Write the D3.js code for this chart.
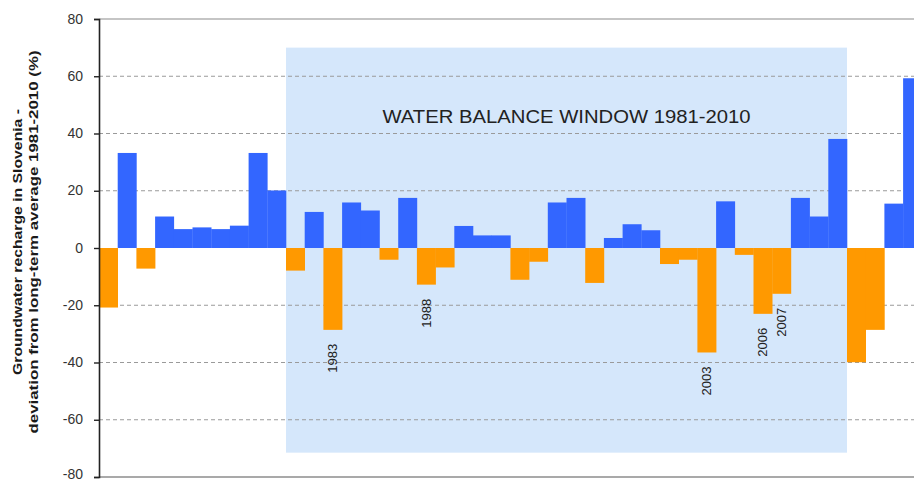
<!DOCTYPE html>
<html>
<head>
<meta charset="utf-8">
<script src="https://cdn.jsdelivr.net/npm/d3@7"></script>
<style>
  html, body { margin: 0; padding: 0; background: #fff; }
  svg { display: block; font-family: "Liberation Sans", Arial, sans-serif; }
</style>
</head>
<body>
<svg id="chart" width="914" height="483"></svg>
<script>
// Yearly groundwater recharge in Slovenia, deviation from 1981-2010 average (%)
const years = d3.range(1971, 2015);
const deviation = [
  -20.8, 33.2, -7.2, 11.0, 6.6, 7.2, 6.6, 7.8, 33.2, 20.1,      // 1971-1980
  -7.9, 12.6, -28.6, 15.9, 13.1, -4.1, 17.5, -12.8, -6.8, 7.7,  // 1981-1990
  4.4, 4.4, -11.1, -4.8, 15.9, 17.5, -12.2, 3.5, 8.3, 6.2,      // 1991-2000
  -5.6, -4.1, -36.5, 16.3, -2.4, -23.0, -16.0, 17.5, 11.0, 38.1, // 2001-2010
  -39.9, -28.6, 15.5, 59.3                                       // 2011-2014
];
const yTicks = [-80, -60, -40, -20, 0, 20, 40, 60, 80];
const gridValues = [-60, -40, -20, 20, 40, 60];
const labelledYears = [1983, 1988, 2003, 2006, 2007];
const windowYears = [1981, 2010];
const windowRange = [-71.5, 70];
const windowTitle = "WATER BALANCE WINDOW 1981-2010";
const yTitle = ["Groundwater recharge in Slovenia -",
                "deviation from long-term average 1981-2010 (%)"];

const data = years.map((y, i) => ({ year: y, value: deviation[i] }));

const svg = d3.select("#chart");
const plotLeft = 99, plotTop = 19, plotBottom = 477;
const barW = 18.7;

const x = d3.scaleBand()
  .domain(years)
  .range([plotLeft, plotLeft + years.length * barW])
  .padding(0);

const y = d3.scaleLinear().domain([-80, 80]).range([plotBottom, plotTop]);

// Shaded reference window
svg.append("rect")
  .attr("x", x(windowYears[0]))
  .attr("y", y(windowRange[1]))
  .attr("width", x(windowYears[1]) + x.bandwidth() - x(windowYears[0]))
  .attr("height", y(windowRange[0]) - y(windowRange[1]))
  .attr("fill", "#d5e7fb");

// Dashed gridlines
svg.append("g").selectAll("line")
  .data(gridValues)
  .join("line")
  .attr("x1", plotLeft).attr("x2", 914)
  .attr("y1", d => y(d)).attr("y2", d => y(d))
  .attr("stroke", "#9a9a9a")
  .attr("stroke-width", 1)
  .attr("stroke-dasharray", "4,3");

// Frame lines at top and bottom
svg.append("line").attr("x1", plotLeft).attr("x2", 914)
  .attr("y1", y(80)).attr("y2", y(80))
  .attr("stroke", "#8c8c8c").attr("stroke-width", 1.2);
svg.append("line").attr("x1", plotLeft).attr("x2", 914)
  .attr("y1", y(-80)).attr("y2", y(-80))
  .attr("stroke", "#555").attr("stroke-width", 1.2);

// Window title
svg.append("text")
  .attr("x", (x(windowYears[0]) + x(windowYears[1]) + x.bandwidth()) / 2)
  .attr("y", 123)
  .attr("text-anchor", "middle")
  .attr("font-size", 17.5)
  .attr("fill", "#222")
  .attr("textLength", 368)
  .attr("lengthAdjust", "spacingAndGlyphs")
  .text(windowTitle);

// Bars
svg.append("g").selectAll("rect")
  .data(data)
  .join("rect")
  .attr("x", d => x(d.year))
  .attr("width", x.bandwidth() + 0.3)
  .attr("y", d => y(Math.max(0, d.value)))
  .attr("height", d => Math.abs(y(d.value) - y(0)))
  .attr("fill", d => d.value >= 0 ? "#3366ff" : "#ff9900");

// Year labels under selected dry years
svg.append("g").selectAll("text")
  .data(data.filter(d => labelledYears.includes(d.year)))
  .join("text")
  .attr("transform", d =>
    `translate(${x(d.year) + x.bandwidth() / 2},${y(d.value) + 14}) rotate(-90)`)
  .attr("dy", "0.35em")
  .attr("text-anchor", "end")
  .attr("font-size", 13)
  .attr("fill", "#222")
  .attr("textLength", 29)
  .attr("lengthAdjust", "spacingAndGlyphs")
  .text(d => d.year);

// Y axis (plain hyphen for negative numbers)
const yAxis = d3.axisLeft(y)
  .tickValues(yTicks)
  .tickFormat(d => String(d))
  .tickSize(5)
  .tickPadding(11);
const gy = svg.append("g").attr("transform", `translate(${plotLeft},0)`).call(yAxis);
gy.select(".domain").attr("stroke", "#222").attr("stroke-width", 1.6);
gy.selectAll(".tick line").attr("stroke", "#222").attr("stroke-width", 1.4);
gy.selectAll(".tick text")
  .attr("font-size", 14)
  .attr("dy", d => d === -80 ? "0.1em" : "0.3em")
  .attr("font-family", "Liberation Sans, Arial, sans-serif")
  .attr("fill", "#333");

// Y axis title (two lines)
const titleCenterY = 242;
[[17, yTitle[0], 266], [33, yTitle[1], 383]].forEach(([cx, txt, len]) => {
  svg.append("text")
    .attr("transform", `translate(${cx},${titleCenterY}) rotate(-90)`)
    .attr("dy", "0.35em")
    .attr("text-anchor", "middle")
    .attr("font-size", 13.5)
    .attr("font-weight", "bold")
    .attr("fill", "#1a1a1a")
    .attr("textLength", len)
    .attr("lengthAdjust", "spacingAndGlyphs")
    .text(txt);
});
</script>
</body>
</html>
